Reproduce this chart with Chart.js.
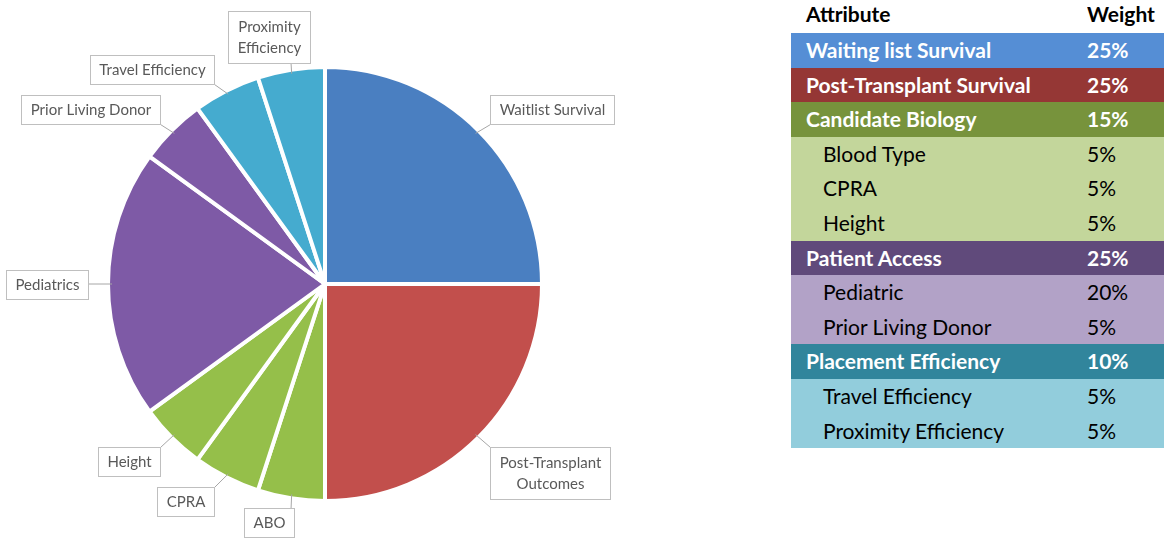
<!DOCTYPE html>
<html>
<head>
<meta charset="utf-8">
<script src="https://cdn.jsdelivr.net/npm/chart.js@4.4.0/dist/chart.umd.min.js"></script>
<style>
  html, body { margin: 0; padding: 0; background: #fff; }
  body { width: 1164px; height: 539px; position: relative; overflow: hidden; font-family: Lato, "Noto Sans", sans-serif; }
  #pieWrap { position: absolute; left: 0; top: 0; width: 650px; height: 539px; }
  #weights { position: absolute; left: 791px; top: 0; width: 373px; border-collapse: collapse; table-layout: fixed; font-size: 21px; }
  #weights col.c1 { width: 296px; }
  #weights col.c2 { width: 77px; }
  #weights td { padding: 0; height: 34.6px; line-height: 34.6px; white-space: nowrap; overflow: hidden; }
  #weights tr.head td { height: 33px; line-height: 28px; vertical-align: top; font-weight: bold; color: #000; }
  #weights td.name { padding-left: 15px; }
  #weights tr.sub td.name { padding-left: 32px; }
  #weights tr.group td { font-weight: bold; color: #fff; }
  #weights tr.sub td { color: #000; }
</style>
</head>
<body>
<div id="pieWrap"><canvas id="pieChart"></canvas></div>
<table id="weights"><colgroup><col class="c1"><col class="c2"></colgroup><tbody id="weightsBody"></tbody></table>
<script>
// Pie slices, clockwise from the top
var sliceLabels = ['Waitlist Survival', ['Post-Transplant', 'Outcomes'], 'ABO', 'CPRA', 'Height',
    'Pediatrics', 'Prior Living Donor', 'Travel Efficiency', ['Proximity', 'Efficiency']];
var sliceValues = [25, 25, 5, 5, 5, 20, 5, 5, 5];
var sliceColors = ['#4a7fc1', '#c24f4c', '#95bf4a', '#95bf4a', '#95bf4a', '#7e5aa6', '#7e5aa6', '#45abcf', '#45abcf'];

// Table on the right
var tableAttributes = ['Waiting list Survival', 'Post-Transplant Survival', 'Candidate Biology', 'Blood Type', 'CPRA', 'Height',
    'Patient Access', 'Pediatric', 'Prior Living Donor', 'Placement Efficiency', 'Travel Efficiency', 'Proximity Efficiency'];
var tableWeights = ['25%', '25%', '15%', '5%', '5%', '5%', '25%', '20%', '5%', '10%', '5%', '5%'];
var tableIsGroup = [true, true, true, false, false, false, true, false, false, true, false, false];
var rowColors = ['#558ed5', '#953735', '#77933c', '#c3d69b', '#c3d69b', '#c3d69b',
    '#604a7b', '#b2a2c7', '#b2a2c7', '#31859c', '#92cddc', '#92cddc'];

// build the table
var body = document.getElementById('weightsBody');
var head = document.createElement('tr');
head.className = 'head';
head.innerHTML = '<td class="name">Attribute</td><td>Weight</td>';
body.appendChild(head);
tableAttributes.forEach(function(name, i) {
    var tr = document.createElement('tr');
    tr.className = tableIsGroup[i] ? 'group' : 'sub';
    tr.style.background = rowColors[i];
    tr.innerHTML = '<td class="name">' + name + '</td><td>' + tableWeights[i] + '</td>';
    body.appendChild(tr);
});

// callout boxes with leader lines
var callouts = {
    id: 'callouts',
    afterDatasetsDraw: function(chart) {
        var ctx = chart.ctx;
        var meta = chart.getDatasetMeta(0);
        var labels = chart.data.labels;
        ctx.save();
        ctx.font = '15px Lato, "Noto Sans", sans-serif';
        ctx.textBaseline = 'middle';
        ctx.textAlign = 'center';
        meta.data.forEach(function(arc, i) {
            var p = arc.getProps(['x', 'y', 'startAngle', 'endAngle', 'outerRadius'], true);
            var mid = (p.startAngle + p.endAngle) / 2;
            var dx = Math.cos(mid), dy = Math.sin(mid);
            var ax = p.x + p.outerRadius * dx, ay = p.y + p.outerRadius * dy;
            var lines = [].concat(labels[i]);
            var tw = Math.max.apply(null, lines.map(function(l) { return ctx.measureText(l).width; }));
            var w = Math.round(tw + 18), h = lines.length > 1 ? 52 : 29;
            var gap = Math.abs(dy) < 0.3 ? 20 : 12;
            var left, top;
            if (Math.abs(dx) > 0.3) left = dx > 0 ? ax + gap : ax - gap - w;
            else left = ax + dx * 140 - w / 2;
            if (dy < -0.3) top = ay - 7 - h;
            else if (dy > 0.3) top = ay + 10;
            else top = ay - h / 2;
            left = Math.round(left) + 0.5; top = Math.round(top) + 0.5;
            // leader line to the nearest point of the box
            var nx = Math.min(Math.max(ax, left), left + w);
            var ny = Math.min(Math.max(ay, top), top + h);
            ctx.strokeStyle = '#a6a6a6';
            ctx.lineWidth = 1;
            ctx.beginPath();
            ctx.moveTo(ax - dx * 4, ay - dy * 4);
            ctx.lineTo(nx, ny);
            ctx.stroke();
            ctx.fillStyle = '#fff';
            ctx.fillRect(left, top, w, h);
            ctx.strokeStyle = '#bfbfbf';
            ctx.strokeRect(left, top, w, h);
            ctx.fillStyle = '#595959';
            lines.forEach(function(l, k) {
                ctx.fillText(l, left + w / 2, top + h / 2 + (k - (lines.length - 1) / 2) * 21);
            });
        });
        ctx.restore();
    }
};

var ctx = document.getElementById('pieChart').getContext('2d');
var pieChart = new Chart(ctx, {
    type: 'pie',
    data: {
        labels: sliceLabels,
        datasets: [{
            data: sliceValues,
            backgroundColor: sliceColors,
            borderColor: '#ffffff',
            borderWidth: 4
        }]
    },
    options: {
        responsive: true,
        maintainAspectRatio: false,
        animation: false,
        layout: { padding: { top: 65, bottom: 36, left: 106, right: 106 } },
        plugins: {
            legend: { display: false },
            tooltip: { enabled: false }
        }
    },
    plugins: [callouts]
});
</script>
</body>
</html>
